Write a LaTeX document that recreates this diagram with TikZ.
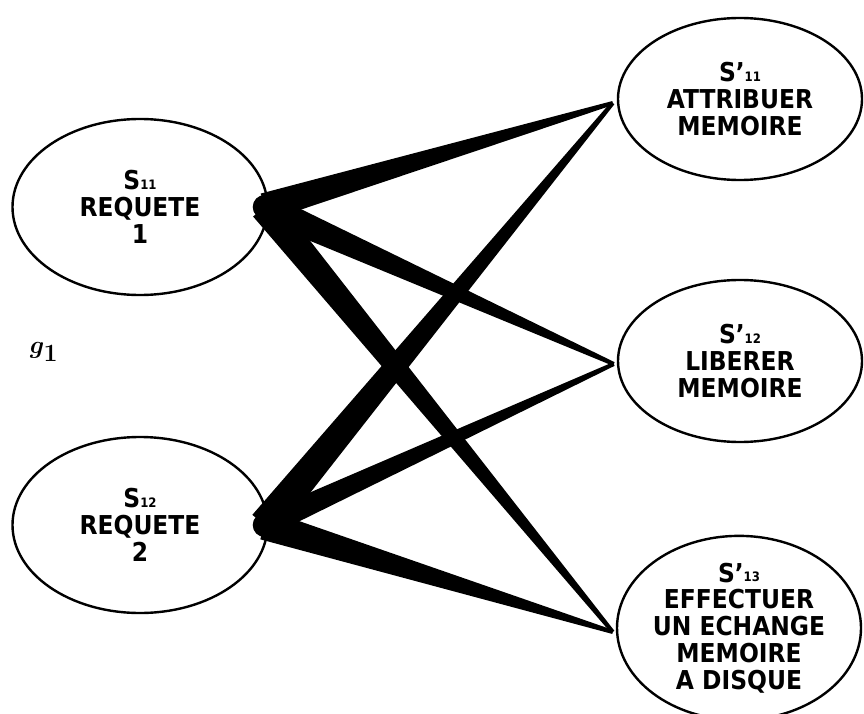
\documentclass[tikz,border=0pt]{standalone}
\usepackage{fontspec}
\setmainfont{DejaVu Sans Condensed}
\usetikzlibrary{shapes.geometric,calc}
\tikzset{
  state/.style={draw, ellipse, line width=2.4pt, inner sep=0pt, align=center,
    font=\bfseries\fontsize{26}{26.8}\selectfont},
  leftstate/.style={state, minimum width=255pt, minimum height=176pt},
  rightstate/.style={state, minimum width=244pt, minimum height=162pt},
  glabelstyle/.style={font=\boldmath\fontsize{52}{52}\selectfont},
}
\newcommand\wedgeline[4]{%
  \fill ($(#1)!#3!90:(#2)$) -- ($(#2)!#4!-90:(#1)$) -- ($(#2)!#4!90:(#1)$) -- ($(#1)!#3!-90:(#2)$) -- cycle;}
\newcommand\idx[1]{\raisebox{0.5pt}{\fontsize{13}{13}\selectfont #1}}
\begin{document}
\begin{tikzpicture}[x=1pt,y=-1pt]
\useasboundingbox (0,0) rectangle (864,714);
% left nodes
\node[leftstate] (L1) at (140,207) {S\idx{11}\\REQUETE\\1};
\node[leftstate] (L2) at (140,525) {S\idx{12}\\REQUETE\\2};
% right nodes
\node[rightstate] (R1) at (740,99) {S'\idx{11}\\ATTRIBUER\\MEMOIRE};
\node[rightstate] (R2) at (740,361) {S'\idx{12}\\LIBERER\\MEMOIRE};
\node[rightstate, minimum height=172pt] (R3) at (739,628) {S'\idx{13}\\EFFECTUER\\UN ECHANGE\\MEMOIRE\\A DISQUE};
% label
\node[glabelstyle] (glabel) at (44,352) {$g_{1}$};
% anchor points
\coordinate (a1) at ([xshift=-4pt]L1.east);
\coordinate (a2) at ([xshift=-4pt]L2.east);
\coordinate (b1) at ([xshift=-4pt,yshift=-4pt]R1.west);
\coordinate (b2) at ([xshift=-3pt,yshift=-3pt]R2.west);
\coordinate (b3) at ([xshift=-3pt,yshift=-4pt]R3.west);
% wedges
\wedgeline{a1}{b1}{14pt}{2pt}
\wedgeline{a1}{b2}{14pt}{2pt}
\wedgeline{a1}{b3}{15pt}{2pt}
\wedgeline{a2}{b1}{16pt}{2pt}
\wedgeline{a2}{b2}{12pt}{2pt}
\wedgeline{a2}{b3}{15pt}{2pt}
\fill (a1) circle (12pt);
\fill (a2) circle (12pt);
\end{tikzpicture}
\end{document}
